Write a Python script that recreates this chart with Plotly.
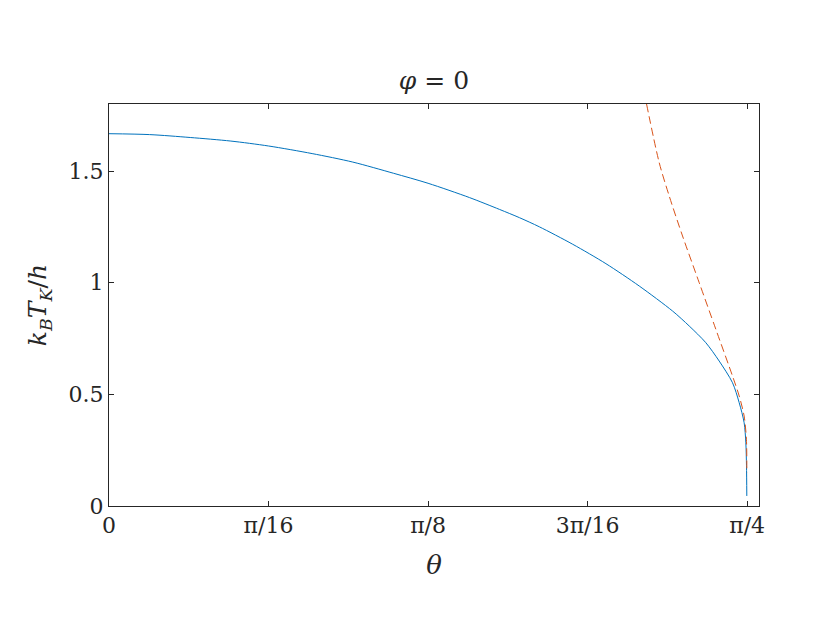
import math
import plotly.graph_objects as go

# Blue solid curve (theta, k_B T_K / h)
theta_blue = [0.0, 0.05, 0.1, 0.15, 0.1963, 0.25, 0.3, 0.35, 0.3927, 0.4437, 0.4806, 0.5052,
              0.5297, 0.5707, 0.6116, 0.6526, 0.6936, 0.7141, 0.7346, 0.751, 0.7674, 0.7756,
              0.7817, 0.7838, 0.7846, 0.7850]
val_blue = [1.667, 1.663, 1.650, 1.634, 1.612, 1.578, 1.540, 1.490, 1.445, 1.381, 1.328, 1.291,
            1.250, 1.172, 1.085, 0.985, 0.873, 0.806, 0.731, 0.649, 0.552, 0.463,
            0.373, 0.283, 0.18, 0.045]

# Red dashed asymptotic curve
theta_red = [0.6616, 0.6772, 0.6895, 0.7059, 0.7264, 0.7469, 0.7674, 0.7756, 0.7817, 0.7845, 0.7850]
val_red = [1.80, 1.537, 1.388, 1.209, 1.0, 0.791, 0.582, 0.493, 0.403, 0.299, 0.149]

x_tickvals = [0, math.pi / 16, math.pi / 8, 3 * math.pi / 16, math.pi / 4]
x_ticktext = ["0", "π/16", "π/8", "3π/16", "π/4"]
y_tickvals = [0, 0.5, 1, 1.5]
y_ticktext = ["0", "0.5", "1", "1.5"]

FONT = "DejaVu Serif"
AX = "#262626"

fig = go.Figure()
fig.add_trace(go.Scatter(x=theta_blue, y=val_blue, mode="lines",
                         line=dict(color="#0072BD", width=1, shape="spline", smoothing=0.8),
                         showlegend=False))
fig.add_trace(go.Scatter(x=theta_red, y=val_red, mode="lines",
                         line=dict(color="#D95319", width=1, dash="8px,4px", shape="spline",
                                   smoothing=0.8),
                         showlegend=False))

axis_common = dict(showgrid=False, zeroline=False, showline=True, linecolor=AX, linewidth=1,
                   mirror="ticks", ticks="inside", ticklen=5, tickcolor=AX, tickwidth=1,
                   tickfont=dict(family=FONT, size=22, color=AX))

fig.update_layout(
    width=840, height=632,
    paper_bgcolor="white", plot_bgcolor="white",
    margin=dict(l=101, r=89, t=96, b=134),
    title=dict(text="<i>φ</i> = 0", x=(101 + 325) / 840, xanchor="center",
               y=1 - 72 / 632, yanchor="middle",
               font=dict(family=FONT, size=25, color=AX)),
    xaxis=dict(range=[0, 0.8], tickvals=x_tickvals, ticktext=x_ticktext,
               title=dict(text="<i>θ</i>", font=dict(family=FONT, size=26, color=AX),
                          standoff=18),
               **axis_common),
    yaxis=dict(range=[0, 1.8], tickvals=y_tickvals, ticktext=y_ticktext,
               title=dict(text="<i>k</i><sub><i>B</i></sub><i>T</i><sub><i>K</i></sub>/<i>h</i>",
                          font=dict(family=FONT, size=25, color=AX), standoff=14),
               **axis_common),
)

fig.write_html("out.html")
